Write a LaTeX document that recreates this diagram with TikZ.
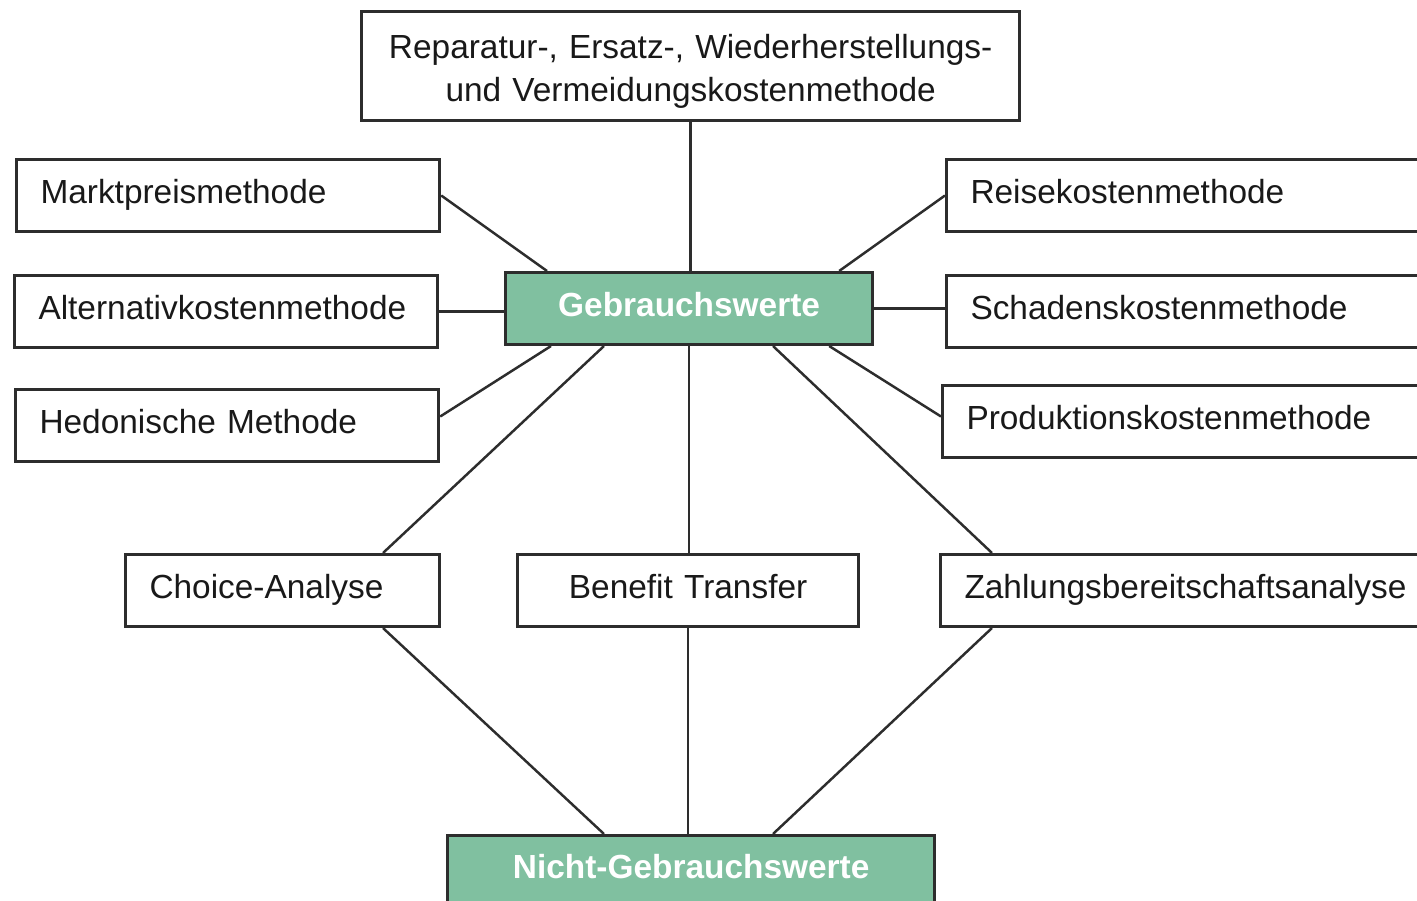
\documentclass[tikz,border=0pt]{standalone}
\usepackage{fontspec}
\setmainfont{Liberation Sans}
\usetikzlibrary{calc}
\definecolor{gfill}{RGB}{128,192,160}
\definecolor{edge}{RGB}{45,45,45}
\begin{document}
\begin{tikzpicture}[x=0.01cm,y=-0.01cm,
  base/.style={draw=edge,line width=0.85pt,anchor=north west,inner ysep=0pt,font=\fontsize{9.5}{12.2}\selectfont},
  box/.style={base,fill=white,minimum height=0.72cm,inner xsep=0.24cm,align=left,text height=0.3cm,text depth=0.14cm,text=black!90},
  tbox/.style={base,fill=white,inner xsep=0.24cm,align=center,text=black!90},
  gbox/.style={base,fill=gfill,minimum height=0.72cm,text height=0.3cm,text depth=0.14cm,font=\bfseries\fontsize{9.5}{12.2}\selectfont,text=white},
  conn/.style={draw=edge,line width=0.7pt}]
\clip (0,0) rectangle (1417,901);
\fill[white] (0,0) rectangle (1417,901);
% nodes
\node[tbox,text width=6.10cm,minimum height=1.09cm] (tb) at (360,10) {\rule{0pt}{0.34cm}Reparatur-, Ersatz-, Wiederherstellungs-\\und Vermeidungskostenmethode};
\node[box,text width=3.75cm] (mp) at (15,158) {Marktpreismethode};
\node[box,text width=3.75cm] (ak) at (13,274) {Alternativkostenmethode};
\node[box,text width=3.75cm] (hm) at (14,388) {Hedonische Methode};
\node[gbox,minimum width=3.67cm] (gw) at (504,271) {Gebrauchswerte};
\node[box,text width=5.52cm] (rk) at (945,158) {Reisekostenmethode};
\node[box,text width=5.52cm] (sk) at (945,274) {Schadenskostenmethode};
\node[box,text width=5.52cm] (pk) at (941,384) {Produktionskostenmethode};
\node[box,text width=2.66cm] (ca) at (124,553) {Choice-Analyse};
\node[box,align=center,text width=2.93cm] (bt) at (516,553) {Benefit Transfer};
\node[box,text width=5.52cm] (zb) at (939,553) {Zahlungsbereitschaftsanalyse};
\node[gbox,minimum width=4.87cm,minimum height=0pt,text height=0.43cm,text depth=0.5cm] (ng) at (446,834) {Nicht-Gebrauchswerte};
% connectors
\draw[conn] (tb.south) -- (tb.south |- gw.north);
\draw[conn] (mp.east) -- ($(gw.north west)+(43,0)$);
\draw[conn] (ak.east) -- (ak.east -| gw.west);
\draw[conn] ($(hm.east)+(0,-9)$) -- ($(gw.south west)+(47,0)$);
\draw[conn] (rk.west) -- ($(gw.north east)+(-35,0)$);
\draw[conn] (gw.east) -- (gw.east -| sk.west);
\draw[conn] ($(pk.west)+(0,-5)$) -- ($(gw.south east)+(-45,0)$);
\draw[conn] ($(gw.south west)+(100,0)$) -- ($(ca.north west)+(259,0)$);
\draw[conn] (gw.south) -- (gw.south |- bt.north);
\draw[conn] ($(gw.south west)+(269,0)$) -- ($(zb.north west)+(53,0)$);
\draw[conn] ($(ca.south west)+(259,0)$) -- ($(ng.north west)+(158,0)$);
\draw[conn] (bt.south) -- (bt.south |- ng.north);
\draw[conn] ($(zb.south west)+(53,0)$) -- ($(ng.north west)+(327,0)$);
\end{tikzpicture}
\end{document}
